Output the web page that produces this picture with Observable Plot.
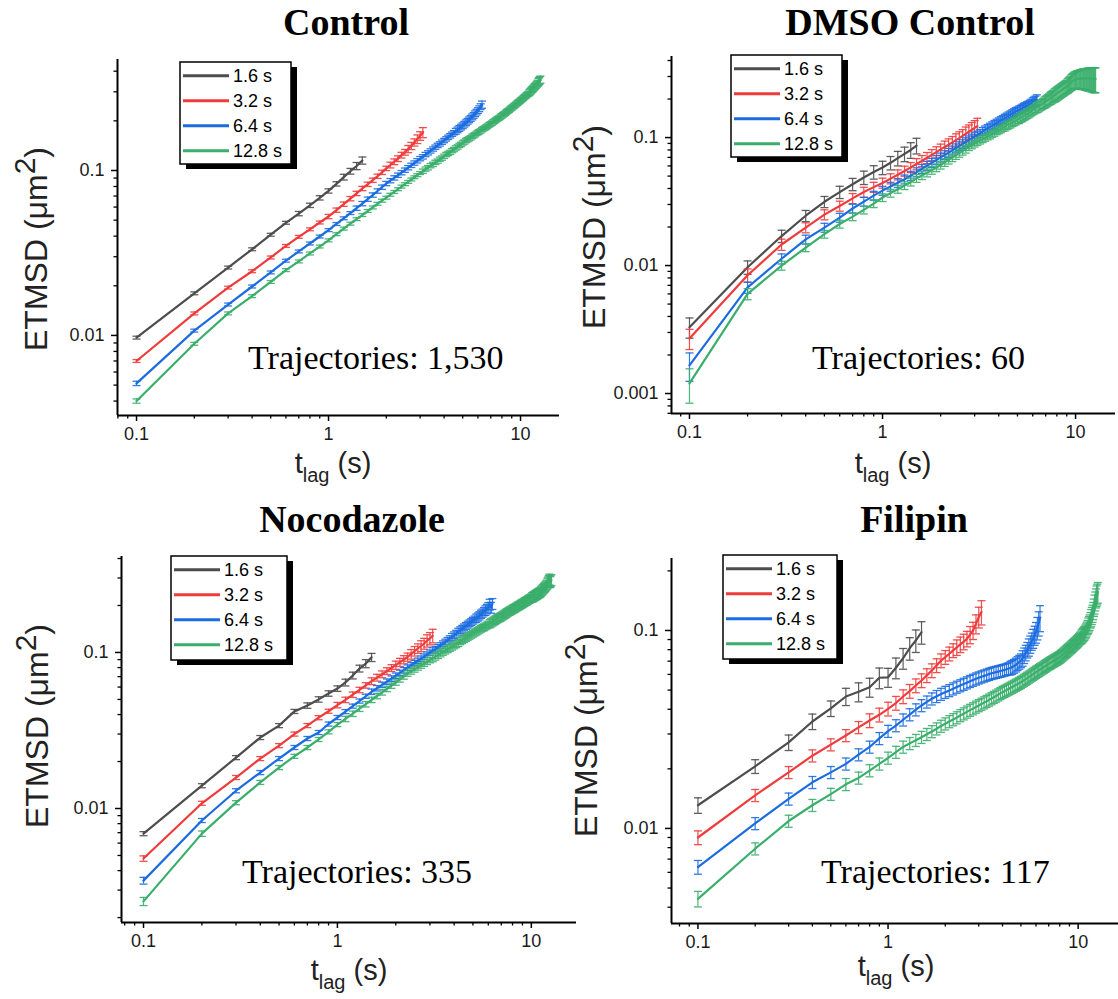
<!DOCTYPE html>
<html><head><meta charset="utf-8">
<script src="https://cdn.jsdelivr.net/npm/d3@7"></script>
<script src="https://cdn.jsdelivr.net/npm/@observablehq/plot@0.6"></script>
<style>
body{margin:0;background:#fff;}
#page{position:relative;width:1118px;height:999px;overflow:hidden;background:#fff;}
#page svg.panel{position:absolute;}
#overlay{position:absolute;left:0;top:0;pointer-events:none;}
</style></head>
<body><div id="page"></div>
<script>
// ---------- DATA ----------
const lagTimes = [0.1,0.2,0.3,0.4,0.5,0.6,0.7,0.8,0.9,1.0,1.1,1.2,1.3,1.4,1.5,1.6,1.7,1.8,1.9,2.0,
2.1,2.2,2.3,2.4,2.5,2.6,2.7,2.8,2.9,3.0,3.1,3.2,3.3,3.4,3.5,3.6,3.7,3.8,3.9,4.0,
4.1,4.2,4.3,4.4,4.5,4.6,4.7,4.8,4.9,5.0,5.1,5.2,5.3,5.4,5.5,5.6,5.7,5.8,5.9,6.0,
6.1,6.2,6.3,6.4,6.5,6.6,6.7,6.8,6.9,7.0,7.1,7.2,7.3,7.4,7.5,7.6,7.7,7.8,7.9,8.0,
8.1,8.2,8.3,8.4,8.5,8.6,8.7,8.8,8.9,9.0,9.1,9.2,9.3,9.4,9.5,9.6,9.7,9.8,9.9,10.0,
10.1,10.2,10.3,10.4,10.5,10.6,10.7,10.8,10.9,11.0,11.1,11.2,11.3,11.4,11.5,11.6,11.7,11.8,11.9,12.0,
12.1,12.2,12.3,12.4,12.5,12.6,12.7];

const seriesNames = ["1.6 s","3.2 s","6.4 s","12.8 s"];
const seriesColors = ["#4d4d4d","#ef3b3b","#1b6ce0","#3aae6b"];
const panelTitles = ["Control","DMSO Control","Nocodazole","Filipin"];
const trajectoryCounts = ["1,530","60","335","117"];
const xTickValues = [0.1,1,10];
const xMinorTicks = [0.08,0.09,0.2,0.3,0.4,0.5,0.6,0.7,0.8,0.9,2,3,4,5,6,7,8,9];
const yMinorTicks = [0.0007,0.0008,0.0009,0.002,0.003,0.004,0.005,0.006,0.007,0.008,0.009,
0.02,0.03,0.04,0.05,0.06,0.07,0.08,0.09,0.2,0.3,0.4,0.5,0.6,0.7,0.8,0.9];

// ETMSD (µm²) per series; errors in % of ETMSD
// Control
const ctrl16 = [0.0097,0.0180,0.0258,0.0333,0.0408,0.0482,0.0548,0.0615,0.0683,0.0752,0.0830,0.0912,0.0990,0.1065,0.1150];
const ctrl32 = [0.0070,0.0136,0.0195,0.0245,0.0297,0.0349,0.0396,0.0440,0.0484,0.0526,0.0575,0.0625,0.0675,0.0726,0.0778,0.0825,0.0873,0.0923,0.0975,0.103,
0.108,0.113,0.118,0.124,0.129,0.135,0.141,0.148,0.155,0.162,0.170];
const ctrl64 = [0.00512,0.0107,0.0154,0.0198,0.0241,0.0284,0.0323,0.0361,0.0398,0.0435,0.0474,0.0513,0.0552,0.0591,0.0630,0.0670,0.0710,0.0751,0.0792,0.0834,
0.0868,0.0902,0.0936,0.0970,0.1005,0.104,0.1075,0.111,0.1145,0.118,0.121,0.125,0.128,0.1315,0.135,0.1385,0.142,0.145,0.1485,0.152,
0.1555,0.159,0.1625,0.166,0.1695,0.173,0.1765,0.180,0.1835,0.187,0.191,0.195,0.199,0.203,0.207,0.2115,0.216,0.221,0.226,0.231,
0.237,0.244,0.251];
const ctrl128 = [0.0040,0.0089,0.0136,0.0173,0.0211,0.0249,0.0281,0.0314,0.0346,0.0377,0.0411,0.0444,0.0476,0.0507,0.0537,0.0568,0.0597,0.0628,0.0656,0.0684,
0.0713,0.0741,0.0770,0.0799,0.0826,0.0853,0.0882,0.0910,0.0936,0.0965,0.0991,0.102,0.104,0.107,0.109,0.112,0.114,0.117,0.119,0.122,
0.125,0.127,0.129,0.132,0.134,0.137,0.139,0.142,0.144,0.147,0.149,0.152,0.154,0.156,0.158,0.161,0.163,0.165,0.168,0.170,
0.172,0.174,0.177,0.179,0.181,0.183,0.185,0.188,0.190,0.192,0.194,0.197,0.199,0.201,0.204,0.206,0.208,0.210,0.213,0.215,
0.218,0.220,0.222,0.225,0.228,0.230,0.232,0.235,0.238,0.240,0.243,0.245,0.248,0.250,0.253,0.256,0.258,0.261,0.263,0.266,
0.269,0.271,0.274,0.277,0.280,0.282,0.285,0.288,0.290,0.293,0.296,0.300,0.303,0.307,0.310,0.313,0.317,0.320,0.324,0.327,
0.331,0.335,0.339,0.344,0.349,0.353,0.356];
const ctrl16Err = [2,2,2,2,2,2,3,3,3,3,3,4,4,5,5];
const ctrl32Err = [2,2,2,2,2,2,2,2,2,3,3,3,3,3,3,3,3,3,3,3,4,4,4,4,4,5,5,5,6,6,7];
const ctrl64Err = [3,2,2,2,2,2,2,2,2,2,2,2,2,3,3,3,3,3,3,3,3,3,3,3,3,3,3,3,3,3,3,3,3,3,3,3,3,3,3,3,
3,3,3,3,3,4,4,4,4,4,4,4,4,4,4,4,4,4,4,4,4,4,5];
const ctrl128Err = [3,2,2,2,2,2,2,2,2,2,2,2,2,2,2,2,2,2,2,2,2,2,2,2,2,2,2,2,2,2,3,3,3,3,3,3,3,3,3,3,
3,3,3,3,3,3,3,3,3,3,3,3,3,3,3,3,3,3,3,3,3,3,3,3,3,3,3,3,3,3,3,3,3,3,3,3,3,3,3,3,
3,3,3,3,3,3,3,3,3,3,3,3,3,3,3,3,3,3,3,3,3,3,3,3,3,3,3,3,3,3,4,4,4,4,4,4,4,4,4,4,
4,4,4,5,5,5,5];

// DMSO Control
const dmso16 = [0.00330,0.0097,0.0170,0.0245,0.0315,0.0375,0.0432,0.0488,0.0538,0.0583,0.0635,0.0690,0.0745,0.0800,0.0866];
const dmso32 = [0.00269,0.00840,0.0146,0.0198,0.0250,0.0292,0.0335,0.0375,0.0410,0.0442,0.0478,0.0513,0.0548,0.0585,0.0622,0.0658,0.0695,0.0732,0.0770,0.0808,
0.0845,0.0880,0.0918,0.0955,0.0990,0.103,0.107,0.111,0.115,0.119,0.123];
const dmso64 = [0.00166,0.00675,0.0113,0.0160,0.0198,0.0237,0.0279,0.0316,0.0352,0.0385,0.0414,0.0443,0.0472,0.0503,0.0537,0.0570,0.0603,0.0636,0.0668,0.0700,
0.0731,0.0762,0.0794,0.0826,0.0858,0.0890,0.0922,0.0953,0.0985,0.102,0.105,0.108,0.112,0.115,0.118,0.121,0.124,0.127,0.130,0.133,
0.136,0.139,0.142,0.145,0.148,0.151,0.154,0.157,0.160,0.162,0.165,0.167,0.170,0.173,0.175,0.178,0.180,0.183,0.186,0.189,
0.192,0.195,0.198];
const dmso128 = [0.00120,0.00600,0.0100,0.0138,0.0176,0.0211,0.0241,0.0272,0.0305,0.0340,0.0368,0.0395,0.0422,0.0450,0.0480,0.0505,0.0530,0.0556,0.0582,0.0610,
0.0640,0.0668,0.0697,0.0726,0.0755,0.0784,0.0813,0.0842,0.0870,0.0898,0.0924,0.0948,0.0972,0.0996,0.102,0.104,0.107,0.109,0.112,0.114,
0.116,0.119,0.121,0.124,0.126,0.128,0.131,0.133,0.135,0.138,0.140,0.143,0.145,0.148,0.150,0.153,0.155,0.158,0.161,0.164,
0.166,0.169,0.172,0.174,0.177,0.180,0.182,0.185,0.188,0.191,0.194,0.197,0.200,0.203,0.206,0.209,0.212,0.215,0.218,0.221,
0.224,0.227,0.230,0.233,0.236,0.239,0.242,0.245,0.248,0.251,0.255,0.259,0.263,0.267,0.271,0.275,0.278,0.281,0.283,0.285,
0.286,0.287,0.287,0.288,0.288,0.289,0.289,0.289,0.290,0.290,0.290,0.290,0.290,0.290,0.290,0.290,0.290,0.290,0.290,0.290,
0.290,0.289,0.289,0.288,0.288,0.288,0.287];
const dmso16Err = [18,12,11,10,10,11,11,12,12,12,12,13,13,14,14];
const dmso32Err = [18,12,10,9,9,9,9,9,9,9,9,9,9,9,10,10,10,10,10,10,11,11,11,12,12,12,13,13,14,14,15];
const dmso64Err = [25,10,9,8,8,8,8,8,8,8,8,8,8,8,8,8,8,8,8,8,8,8,8,8,8,8,8,8,8,8,7,7,7,7,7,7,7,7,7,7,
7,7,7,7,7,7,7,7,7,7,7,7,7,7,7,7,7,7,7,8,8,8,9];
const dmso128Err = [30,10,8,7,7,7,7,7,7,7,7,7,7,7,7,7,7,7,7,7,7,7,7,7,7,7,7,6,6,6,6,6,6,6,6,6,6,6,6,6,
6,6,7,7,7,7,7,7,7,7,8,8,8,8,8,8,8,8,8,8,8,8,9,9,9,9,9,9,10,10,10,10,10,11,11,11,11,12,12,12,
12,12,12,12,12,12,12,12,12,12,13,13,13,13,14,14,14,14,15,15,15,16,16,16,17,17,17,18,18,18,18,19,19,19,20,20,20,20,21,21,
21,21,22,22,22,22,22];

// Nocodazole
const noco16 = [0.0069,0.0140,0.0212,0.0285,0.0340,0.0419,0.0457,0.0500,0.0546,0.0587,0.0642,0.0712,0.0789,0.0849,0.0930];
const noco32 = [0.00478,0.0108,0.0158,0.0209,0.0253,0.0300,0.0340,0.0382,0.0420,0.0460,0.0497,0.0536,0.0575,0.0615,0.0655,0.0690,0.0725,0.0760,0.0795,0.0830,
0.0865,0.0900,0.0935,0.0975,0.102,0.106,0.110,0.114,0.119,0.123,0.128];
const noco64 = [0.00345,0.00838,0.0130,0.0170,0.0209,0.0246,0.0281,0.0307,0.0348,0.0383,0.0418,0.0453,0.0488,0.0524,0.0560,0.0590,0.0620,0.0650,0.0680,0.0710,
0.0740,0.0770,0.0800,0.0828,0.0856,0.0885,0.0913,0.0941,0.0969,0.0997,0.103,0.105,0.108,0.111,0.114,0.117,0.120,0.123,0.126,0.129,
0.132,0.136,0.139,0.142,0.145,0.148,0.151,0.154,0.157,0.160,0.163,0.166,0.169,0.172,0.176,0.179,0.183,0.186,0.190,0.195,
0.203,0.194,0.205];
const noco128 = [0.00254,0.00690,0.0109,0.0147,0.0183,0.0216,0.0246,0.0277,0.0310,0.0345,0.0375,0.0405,0.0436,0.0466,0.0497,0.0526,0.0555,0.0584,0.0613,0.0642,
0.0672,0.0702,0.0733,0.0756,0.0779,0.0802,0.0825,0.0848,0.0871,0.0894,0.0917,0.0940,0.0963,0.0986,0.101,0.103,0.105,0.107,0.109,0.111,
0.113,0.115,0.118,0.120,0.122,0.124,0.126,0.128,0.130,0.132,0.134,0.136,0.138,0.140,0.142,0.144,0.145,0.147,0.149,0.151,
0.153,0.155,0.157,0.159,0.161,0.163,0.165,0.167,0.168,0.170,0.172,0.174,0.176,0.178,0.180,0.182,0.184,0.185,0.187,0.189,
0.191,0.192,0.194,0.196,0.198,0.199,0.201,0.203,0.205,0.206,0.208,0.210,0.212,0.213,0.215,0.217,0.219,0.220,0.222,0.224,
0.226,0.227,0.229,0.231,0.233,0.234,0.236,0.238,0.240,0.241,0.243,0.246,0.249,0.252,0.255,0.258,0.261,0.264,0.268,0.272,
0.277,0.282,0.288,0.294,0.283,0.287,0.292];
const noco16Err = [3,3,3,3,3,3,4,4,4,4,5,5,5,6,6];
const noco32Err = [4,3,3,3,3,3,3,3,3,4,4,4,4,4,5,5,5,5,5,6,6,6,6,7,7,7,8,8,9,9,10];
const noco64Err = [5,3,3,3,3,3,3,3,3,3,3,3,3,3,4,4,4,4,4,4,4,4,4,4,4,4,4,4,4,4,4,4,4,4,4,4,4,4,5,5,
5,5,5,5,5,5,5,5,5,5,5,6,6,6,6,6,6,7,7,7,8,8,8];
const noco128Err = [6,4,3,3,3,3,3,3,3,3,4,4,4,4,4,4,4,4,4,4,4,4,4,4,4,4,4,4,4,4,5,5,5,5,5,5,5,5,5,5,
5,5,5,5,5,5,5,5,5,5,5,5,5,5,5,5,5,5,5,5,6,6,6,6,6,6,6,6,6,6,6,6,6,6,6,6,6,6,6,6,
6,6,6,6,6,6,6,6,6,6,6,6,6,6,6,6,6,6,6,6,7,7,7,7,7,7,7,7,7,7,7,7,7,7,7,7,7,7,7,7,
8,8,8,8,8,8,8];

// Filipin
const fili16 = [0.0131,0.0206,0.0272,0.0347,0.0404,0.0464,0.0490,0.0517,0.0577,0.0580,0.0648,0.0724,0.0814,0.0890,0.0980];
const fili32 = [0.0090,0.0147,0.0192,0.0233,0.0265,0.0295,0.0324,0.0351,0.0375,0.0402,0.0430,0.0464,0.0494,0.0527,0.0559,0.0593,0.0628,0.0666,0.0705,0.0733,
0.0763,0.0793,0.0822,0.0850,0.0878,0.0908,0.0952,0.100,0.108,0.117,0.124];
const fili64 = [0.00638,0.0106,0.0141,0.0171,0.0192,0.0212,0.0236,0.0258,0.0285,0.0310,0.0331,0.0354,0.0376,0.0398,0.0418,0.0436,0.0452,0.0465,0.0477,0.0488,
0.0498,0.0508,0.0518,0.0527,0.0536,0.0545,0.0554,0.0562,0.0570,0.0577,0.0584,0.0590,0.0596,0.0602,0.0608,0.0612,0.0616,0.0620,0.0624,0.0628,
0.0632,0.0637,0.0642,0.0647,0.0653,0.0661,0.0671,0.0682,0.0693,0.0705,0.0725,0.0748,0.0772,0.0798,0.0824,0.0852,0.0882,0.0913,0.0946,0.0980,
0.103,0.109,0.116];
const fili128 = [0.00441,0.00790,0.0109,0.0131,0.0149,0.0167,0.0180,0.0196,0.0212,0.0227,0.0243,0.0258,0.0269,0.0279,0.0289,0.0299,0.0309,0.0319,0.0329,0.0338,
0.0347,0.0355,0.0363,0.0372,0.0380,0.0388,0.0396,0.0403,0.0411,0.0418,0.0425,0.0432,0.0439,0.0446,0.0453,0.0460,0.0467,0.0474,0.0481,0.0488,
0.0494,0.0500,0.0506,0.0512,0.0518,0.0524,0.0530,0.0536,0.0542,0.0548,0.0555,0.0562,0.0568,0.0575,0.0582,0.0589,0.0596,0.0602,0.0609,0.0616,
0.0622,0.0628,0.0635,0.0641,0.0647,0.0654,0.0660,0.0666,0.0673,0.0679,0.0684,0.0690,0.0695,0.0701,0.0706,0.0711,0.0717,0.0722,0.0728,0.0733,
0.0740,0.0748,0.0755,0.0763,0.0771,0.0778,0.0786,0.0794,0.0801,0.0809,0.0817,0.0825,0.0833,0.0841,0.0849,0.0857,0.0865,0.0873,0.0882,0.0890,
0.0900,0.0910,0.0920,0.0930,0.0940,0.0950,0.0960,0.0970,0.0985,0.100,0.102,0.104,0.106,0.108,0.110,0.113,0.116,0.119,0.122,0.126,
0.131,0.136,0.141,0.146,0.150,0.153,0.156];
const fili16Err = [9,8,9,9,9,10,11,11,12,11,12,12,13,13,13];
const fili32Err = [8,7,7,7,7,7,7,8,8,8,8,8,8,8,8,8,8,8,8,8,8,8,9,9,9,9,10,10,11,12,14];
const fili64Err = [8,7,7,7,7,7,7,7,7,7,7,7,7,7,7,7,7,7,7,7,7,7,7,7,7,7,7,7,7,7,7,7,7,7,7,7,7,7,7,7,
7,7,7,8,8,8,8,8,8,8,9,9,9,9,10,10,10,11,11,12,13,14,15];
const fili128Err = [9,7,7,7,7,7,7,7,7,7,7,7,7,7,7,7,7,7,7,7,7,7,7,7,7,7,7,7,7,7,7,7,7,7,7,7,7,7,7,7,
7,7,7,7,7,7,7,7,7,7,7,7,7,7,7,7,7,7,7,7,7,7,7,7,7,7,7,7,7,7,7,7,7,7,7,7,7,7,7,7,
7,7,7,7,7,7,7,7,7,7,7,7,7,7,7,7,7,7,7,7,7,7,7,8,8,8,8,8,8,8,8,8,9,9,9,9,10,10,10,10,
10,11,11,11,12,12,12];

// ---------- LAYOUT ----------
const panels = [
  {left:0,   top:40,  width:560, height:420, frame:[117,559,59,415], xDomain:[0.0796,15.96], yDomain:[0.00327,0.471], yMajor:[0.01,0.1],
   values:[ctrl16,ctrl32,ctrl64,ctrl128], errs:[ctrl16Err,ctrl32Err,ctrl64Err,ctrl128Err],
   title:[346,35], note:[248,369], ylab:[47,249], xlab:[333,473], legend:[180,62,111,102]},
  {left:560, top:40,  width:558, height:420, frame:[671,1115,56,413], xDomain:[0.0807,16.1], yDomain:[0.000698,0.43], yMajor:[0.001,0.01,0.1],
   values:[dmso16,dmso32,dmso64,dmso128], errs:[dmso16Err,dmso32Err,dmso64Err,dmso128Err],
   title:[910,35], note:[812,369], ylab:[605,227], xlab:[893,473], legend:[731,55,111,102]},
  {left:0,   top:530, width:580, height:440, frame:[121,576,556,922], xDomain:[0.077,17.1], yDomain:[0.00186,0.412], yMajor:[0.01,0.1],
   values:[noco16,noco32,noco64,noco128], errs:[noco16Err,noco32Err,noco64Err,noco128Err],
   title:[352,532], note:[242,883], ylab:[48,726], xlab:[349,980], legend:[171,556,116,104]},
  {left:560, top:530, width:558, height:440, frame:[671,1118,558,923], xDomain:[0.0726,16.3], yDomain:[0.00331,0.231], yMajor:[0.01,0.1],
   values:[fili16,fili32,fili64,fili128], errs:[fili16Err,fili32Err,fili64Err,fili128Err],
   title:[914,532], note:[821,883], ylab:[597,735], xlab:[896,976], legend:[723,555,114,104]}
];

const capSymbol = {draw(ctx){ ctx.moveTo(-4,0); ctx.lineTo(4,0); }};
const fmt = d => String(d);
const page = document.getElementById("page");

panels.forEach((p, pi) => {
  const marks = [];
  p.values.forEach((vals, si) => {
    const errs = p.errs[si];
    const rows = vals.map((v, j) => ({t: lagTimes[j], v, lo: v * (1 - errs[j] / 100), hi: v * (1 + errs[j] / 100)}));
    const c = seriesColors[si];
    marks.push(
      Plot.ruleX(rows, {x: "t", y1: "lo", y2: "hi", stroke: c, strokeWidth: 1.2, strokeOpacity: 0.9}),
      Plot.dot(rows, {x: "t", y: "lo", symbol: capSymbol, r: 3, fill: "none", stroke: c, strokeWidth: 1.3, strokeOpacity: 0.9}),
      Plot.dot(rows, {x: "t", y: "hi", symbol: capSymbol, r: 3, fill: "none", stroke: c, strokeWidth: 1.3, strokeOpacity: 0.9}),
      Plot.line(rows, {x: "t", y: "v", stroke: c, strokeWidth: 2.2})
    );
  });
  const xMinor = xMinorTicks.filter(d => d >= p.xDomain[0] && d <= p.xDomain[1]);
  const yMinor = yMinorTicks.filter(d => d >= p.yDomain[0] && d <= p.yDomain[1]);
  marks.push(
    Plot.ruleX([p.xDomain[0]], {stroke: "#000", strokeWidth: 2}),
    Plot.ruleY([p.yDomain[0]], {stroke: "#000", strokeWidth: 2}),
    Plot.axisX(xTickValues, {anchor: "bottom", tickSize: 6, tickPadding: 6, tickFormat: fmt, fontSize: 18, label: null, stroke: "#000", strokeWidth: 1.5, fill: "#1a1a1a"}),
    Plot.axisX(xMinor, {anchor: "bottom", tickSize: 3.5, stroke: "#000", strokeWidth: 1.3, fill: "none", label: null}),
    Plot.axisY(p.yMajor, {anchor: "left", tickSize: 6, tickPadding: 7, tickFormat: fmt, fontSize: 18, label: null, stroke: "#000", strokeWidth: 1.5, fill: "#1a1a1a"}),
    Plot.axisY(yMinor, {anchor: "left", tickSize: 3.5, stroke: "#000", strokeWidth: 1.3, fill: "none", label: null})
  );
  const svg = Plot.plot({
    width: p.width, height: p.height,
    marginLeft: p.frame[0] - p.left,
    marginRight: p.left + p.width - p.frame[1],
    marginTop: p.frame[2] - p.top,
    marginBottom: p.top + p.height - p.frame[3],
    x: {type: "log", domain: p.xDomain},
    y: {type: "log", domain: p.yDomain},
    style: {background: "transparent", overflow: "visible", fontFamily: "'Liberation Sans', Arial, sans-serif", color: "#1a1a1a"},
    marks
  });
  svg.classList.add("panel");
  svg.style.left = p.left + "px";
  svg.style.top = p.top + "px";
  page.appendChild(svg);
});

// ---------- TEXT, LABELS, LEGENDS ----------
const NS = "http://www.w3.org/2000/svg";
const ov = document.createElementNS(NS, "svg");
ov.setAttribute("id", "overlay");
ov.setAttribute("width", 1118);
ov.setAttribute("height", 999);
let html = "";
panels.forEach((p, pi) => {
  html += `<text x="${p.title[0]}" y="${p.title[1]}" text-anchor="middle" font-family="'Liberation Serif','Times New Roman',serif" font-weight="bold" font-size="38" fill="#000">${panelTitles[pi]}</text>`;
  html += `<text x="${p.note[0]}" y="${p.note[1]}" font-family="'Liberation Serif','Times New Roman',serif" font-size="34" fill="#000">Trajectories: ${trajectoryCounts[pi]}</text>`;
  html += `<text transform="translate(${p.ylab[0]},${p.ylab[1]}) rotate(-90)" text-anchor="middle" font-family="'Liberation Sans',Arial,sans-serif" font-size="32" fill="#222">ETMSD (μm<tspan font-size="30" dy="-12">2</tspan><tspan dy="12">)</tspan></text>`;
  html += `<text x="${p.xlab[0]}" y="${p.xlab[1]}" text-anchor="middle" font-family="'Liberation Sans',Arial,sans-serif" font-size="29" fill="#222">t<tspan font-size="20" dy="9">lag</tspan><tspan dy="-9"> (s)</tspan></text>`;
  const [lx, ly, lw, lh] = p.legend;
  html += `<rect x="${lx + 6}" y="${ly + 5}" width="${lw}" height="${lh}" fill="#000"/>`;
  html += `<rect x="${lx}" y="${ly}" width="${lw}" height="${lh}" fill="#fff" stroke="#000" stroke-width="1.5"/>`;
  seriesNames.forEach((name, si) => {
    const ry = ly + 13.8 + si * 25;
    html += `<line x1="${lx + 3}" x2="${lx + 49}" y1="${ry}" y2="${ry}" stroke="${seriesColors[si]}" stroke-width="3"/>`;
    html += `<text x="${lx + 53}" y="${ry + 6.5}" font-family="'Liberation Sans',Arial,sans-serif" font-size="18" fill="#000">${name}</text>`;
  });
});
ov.innerHTML = html;
page.appendChild(ov);
</script>
</body></html>
